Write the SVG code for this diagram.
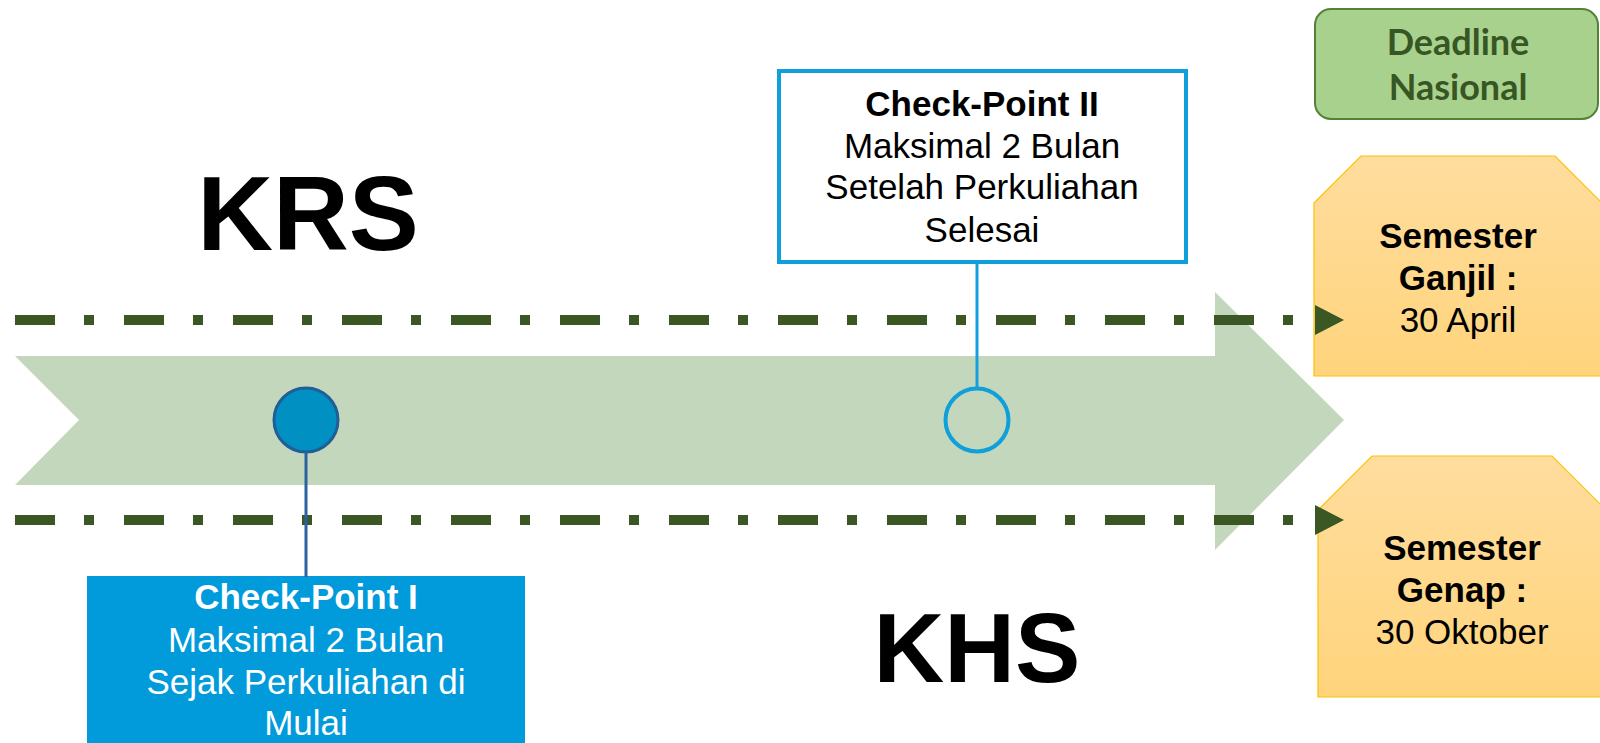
<svg xmlns="http://www.w3.org/2000/svg" width="1600" height="743" viewBox="0 0 1600 743">
<defs>
<style>
.t{font-family:"Liberation Sans",Arial,sans-serif;font-size:35px;text-anchor:middle;fill:#000}
.b{font-weight:bold}
.w{fill:#fff}
.big{font-family:"Liberation Sans",Arial,sans-serif;font-weight:bold;text-anchor:middle;fill:#000}
.dl{font-family:Lato,"Open Sans",sans-serif;font-weight:bold;font-size:36px;text-anchor:middle;fill:#375623}
.dash{fill:none;stroke:#3A5724;stroke-width:10;stroke-dasharray:40 29 10 30}
.oct{fill:url(#og);stroke:#FFC000;stroke-width:1.2}
</style>
<linearGradient id="og" x1="0" y1="0" x2="0" y2="1">
<stop offset="0" stop-color="#FFDD9E"/>
<stop offset="1" stop-color="#FFD47C"/>
</linearGradient>
<marker id="tri" markerUnits="userSpaceOnUse" markerWidth="30" markerHeight="32" refX="0" refY="16" orient="auto">
<path d="M0,1 L29,16 L0,31 Z" fill="#3A5724"/>
</marker>
</defs>
<rect width="1600" height="743" fill="#fff"/>
<g id="band">
<polygon points="15,356 1215,356 1215,292 1344,420 1215,550 1215,485 15,485 79,420" fill="#C3D7BC"/>
</g>
<g id="krs"><text class="big" x="308" y="250" font-size="105">KRS</text></g>
<g id="khs"><text class="big" x="977" y="682" font-size="98">KHS</text></g>
<g id="cp1-dot"><circle cx="306" cy="420" r="32" fill="#0090C1" stroke="#1F5E97" stroke-width="3"/></g>
<g id="cp2-dot"><circle cx="977" cy="420" r="31.5" fill="none" stroke="#0FA0DC" stroke-width="4"/></g>
<g id="cp1">
<rect x="87" y="576" width="438" height="175" fill="#019ADA"/>
<text class="t b w" x="306" y="609">Check-Point I</text>
<text class="t w" x="306" y="652">Maksimal 2 Bulan</text>
<text class="t w" x="306" y="694">Sejak Perkuliahan di</text>
<text class="t w" x="306" y="735">Mulai</text>
</g>
<g id="cp2">
<rect x="779" y="71" width="407" height="191" fill="#fff" stroke="#0FA0DC" stroke-width="4"/>
<text class="t b" x="982" y="116">Check-Point II</text>
<text class="t" x="982" y="158">Maksimal 2 Bulan</text>
<text class="t" x="982" y="199">Setelah Perkuliahan</text>
<text class="t" x="982" y="242">Selesai</text>
</g>
<g id="deadline">
<rect x="1315" y="9" width="283" height="110" rx="16" fill="#A9D18E" stroke="#548235" stroke-width="2"/>
<text class="dl" x="1458" y="55">Deadline</text>
<text class="dl" x="1458" y="100">Nasional</text>
</g>
<g id="ganjil">
<polygon class="oct" points="1361,156 1555,156 1602,203 1602,376 1314,376 1314,203"/>
<text class="t b" x="1458" y="248">Semester</text>
<text class="t b" x="1458" y="290">Ganjil :</text>
<text class="t" x="1458" y="332">30 April</text>
</g>
<g id="genap">
<polygon class="oct" points="1372,456 1552,456 1606,510 1606,697 1318,697 1318,510"/>
<text class="t b" x="1462" y="560">Semester</text>
<text class="t b" x="1462" y="602">Genap :</text>
<text class="t" x="1462" y="644">30 Oktober</text>
</g>
<g id="connectors">
<path class="dash" d="M15,320 H1315" marker-end="url(#tri)"/>
<path class="dash" d="M15,520 H1315" marker-end="url(#tri)"/>
<line x1="306" y1="452" x2="306" y2="577" stroke="#2A63A0" stroke-width="3"/>
<line x1="977" y1="262" x2="977" y2="387" stroke="#14A0DC" stroke-width="3"/>
</g>
</svg>
